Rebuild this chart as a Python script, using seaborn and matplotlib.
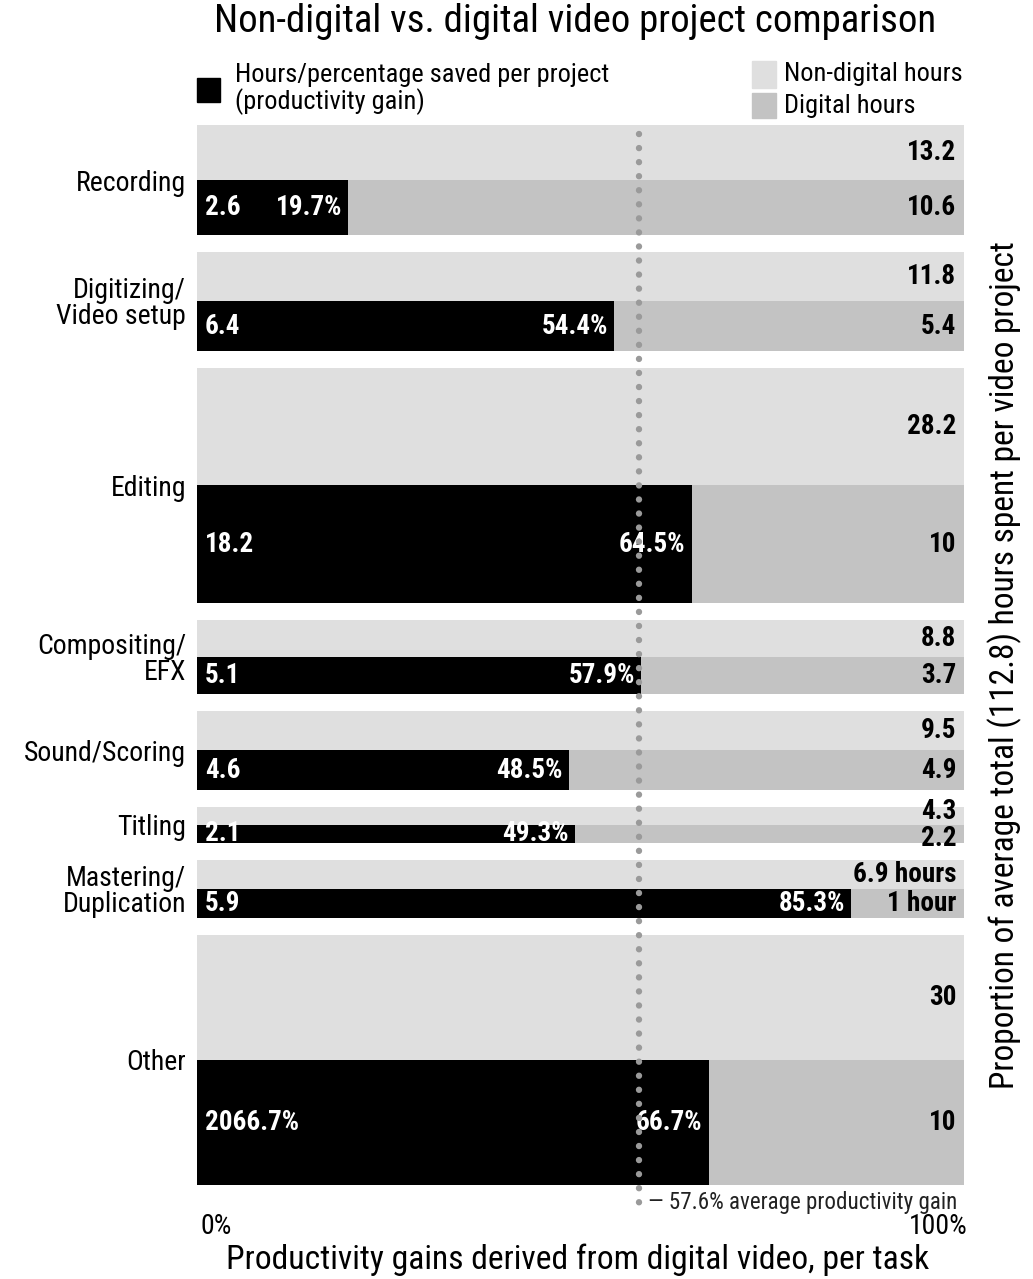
import matplotlib
matplotlib.use("Agg")
import matplotlib.pyplot as plt
import matplotlib.patches as mpatches
from matplotlib import font_manager
import seaborn as sns
import numpy as np

# Task categories and hours per video project
tasks = ["Recording", "Digitizing/\nVideo setup", "Editing", "Compositing/\nEFX",
         "Sound/Scoring", "Titling", "Mastering/\nDuplication", "Other"]
nondigital_hours = [13.2, 11.8, 28.2, 8.8, 9.5, 4.3, 6.9, 30]
digital_hours = [10.6, 5.4, 10, 3.7, 4.9, 2.2, 1, 10]
gain_pct = [19.7, 54.4, 64.5, 57.9, 48.5, 49.3, 85.3, 66.7]
saved_labels = ["2.6", "6.4", "18.2", "5.1", "4.6", "2.1", "5.9", "2066.7%"]
nondigital_labels = ["13.2", "11.8", "28.2", "8.8", "9.5", "4.3", "6.9 hours", "30"]
digital_labels = ["10.6", "5.4", "10", "3.7", "4.9", "2.2", "1 hour", "10"]
average_gain = 57.6

sns.set_theme(style="white")
names = {f.name for f in font_manager.fontManager.ttflist}
FONT = [n for n in ["Roboto Condensed", "Roboto", "DejaVu Sans"] if n in names]
plt.rcParams["font.family"] = FONT
plt.rcParams["text.color"] = "black"

LIGHT = "#dfdfdf"
MID = "#c3c3c3"
DOT = "#9a9a9a"
VAL_SIZE = 19.5

fig = plt.figure(figsize=(10.33, 12.79), dpi=100)
gap = 2.05
total = sum(nondigital_hours) + gap * (len(tasks) - 1)
ax = fig.add_axes([197 / 1033, 1 - 1185 / 1279, 767 / 1033, 1060 / 1279])
ax.set_xlim(0, 100)
ax.set_ylim(total, 0)

tops = []
y = 0.0
for h in nondigital_hours:
    tops.append(y)
    y += h + gap
tops = np.array(tops)
heights = np.array(nondigital_hours)
half = heights / 2.0

# upper band: non-digital hours, lower band: digital hours
ax.barh(tops, [100] * len(tasks), height=half, align="edge", color=LIGHT, edgecolor="none")
ax.barh(tops + half, [100] * len(tasks), height=half, align="edge", color=MID, edgecolor="none")
gain_bars = ax.barh(tops + half, gain_pct, height=half, align="edge", color="black", edgecolor="none")

for i, bar in enumerate(gain_bars):
    yc_low = tops[i] + half[i] * 1.5
    yc_up = tops[i] + half[i] * 0.5
    # thin rows: push the two hour labels slightly apart
    nudge = 3.0 if half[i] < 3 else 0.0
    clip = mpatches.Rectangle((0, tops[i] + half[i]), 100, half[i], transform=ax.transData)
    t1 = ax.text(1.0, yc_low, saved_labels[i], color="white", fontsize=VAL_SIZE,
                 fontweight="bold", ha="left", va="center")
    t2 = ax.text(gain_pct[i] - 0.8, yc_low, f"{gain_pct[i]:.1f}%", color="white",
                 fontsize=VAL_SIZE, fontweight="bold", ha="right", va="center")
    t1.set_clip_path(clip)
    t2.set_clip_path(clip)
    ax.annotate(nondigital_labels[i], xy=(99.0, yc_up), xytext=(0, nudge),
                textcoords="offset points", color="black", fontsize=VAL_SIZE,
                fontweight="bold", ha="right", va="center")
    ax.annotate(digital_labels[i], xy=(99.0, yc_low), xytext=(0, -nudge),
                textcoords="offset points", color="black", fontsize=VAL_SIZE,
                fontweight="bold", ha="right", va="center")

# average productivity gain marker
ax.plot([average_gain, average_gain], [1.1, total + 2.15], color=DOT, lw=4.6,
        linestyle=(0, (0.01, 2.19)), dash_capstyle="round", clip_on=False, zorder=5)
ax.annotate("— 57.6% average productivity gain", xy=(average_gain + 1.2, total + 2.15),
            fontsize=16.6, color="#222222", ha="left", va="center", annotation_clip=False)

ax.set_yticks(tops + half)
ax.set_yticklabels(tasks, fontsize=20, linespacing=0.95, color="black")
ax.tick_params(axis="y", length=0, pad=8)
ax.set_xticks([])
for s in ax.spines.values():
    s.set_visible(False)

fig.text(200 / 1033, 1 - 1227 / 1279, "0%", fontsize=20, ha="left", va="center")
fig.text(968 / 1033, 1 - 1227 / 1279, "100%", fontsize=20, ha="right", va="center")
fig.text(578 / 1033, 1 - 1260 / 1279, "Productivity gains derived from digital video, per task",
         fontsize=24.2, ha="center", va="center")
fig.text(1005 / 1033, 1 - 665 / 1279,
         "Proportion of average total (112.8) hours spent per video project",
         fontsize=24, ha="center", va="center", rotation=90)
fig.text(575 / 1033, 1 - 22 / 1279, "Non-digital vs. digital video project comparison",
         fontsize=28, ha="center", va="center")

# legend
fig.patches.append(mpatches.Rectangle((197 / 1033, 1 - 102 / 1279), 23 / 1033, 24 / 1279,
                                      transform=fig.transFigure, color="black"))
fig.text(235 / 1033, 1 - 89 / 1279, "Hours/percentage saved per project\n(productivity gain)",
         fontsize=19, ha="left", va="center", linespacing=1.03)
fig.patches.append(mpatches.Rectangle((752 / 1033, 1 - 88 / 1279), 24 / 1033, 27 / 1279,
                                      transform=fig.transFigure, color=LIGHT))
fig.patches.append(mpatches.Rectangle((752 / 1033, 1 - 118 / 1279), 24 / 1033, 25 / 1279,
                                      transform=fig.transFigure, color=MID))
fig.text(784 / 1033, 1 - 74 / 1279, "Non-digital hours", fontsize=19, ha="left", va="center")
fig.text(784 / 1033, 1 - 106 / 1279, "Digital hours", fontsize=19, ha="left", va="center")

fig.savefig("out.png", dpi=100)
